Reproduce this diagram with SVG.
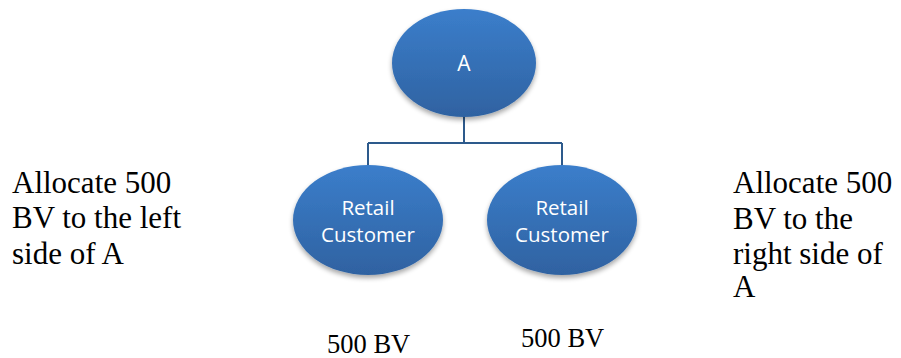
<svg xmlns="http://www.w3.org/2000/svg" width="901" height="358" viewBox="0 0 901 358">
<defs>
<linearGradient id="g" x1="0" y1="0" x2="0" y2="1">
<stop offset="0" stop-color="#3b7ecb"/>
<stop offset="1" stop-color="#2f62a1"/>
</linearGradient>
<filter id="sh" x="-20%" y="-20%" width="140%" height="150%">
<feGaussianBlur in="SourceAlpha" stdDeviation="2.5"/>
<feOffset dx="0" dy="3" result="b"/>
<feComponentTransfer><feFuncA type="linear" slope="0.35"/></feComponentTransfer>
<feMerge><feMergeNode/><feMergeNode in="SourceGraphic"/></feMerge>
</filter>
</defs>
<style>
.node{fill:url(#g);filter:url(#sh)}
.nt{font-family:"Open Sans","Liberation Sans",sans-serif;fill:#fff;text-anchor:middle}
.tt{font-family:"Liberation Serif",serif;fill:#000}
.conn{fill:none;stroke:#2d5a8c;stroke-width:2}
</style>
<g id="connectors">
<path class="conn" d="M464 117V143M368 143H562M368 143V166M562 143V166"/>
</g>
<g id="nodeA">
<ellipse class="node" cx="464" cy="63" rx="72" ry="54"/>
<text class="nt" x="464" y="71" font-size="21">A</text>
</g>
<g id="nodeLeft">
<ellipse class="node" cx="368" cy="220" rx="75" ry="55"/>
<text class="nt" x="368" y="215" font-size="20.5">Retail</text>
<text class="nt" x="368" y="242" font-size="20.5">Customer</text>
</g>
<g id="nodeRight">
<ellipse class="node" cx="562" cy="220" rx="75" ry="55"/>
<text class="nt" x="562" y="215" font-size="20.5">Retail</text>
<text class="nt" x="562" y="242" font-size="20.5">Customer</text>
</g>
<g id="leftNote">
<text class="tt" font-size="31" x="12" y="193">Allocate 500</text>
<text class="tt" font-size="31" x="12" y="228">BV to the left</text>
<text class="tt" font-size="31" x="12" y="264">side of A</text>
</g>
<g id="rightNote">
<text class="tt" font-size="31" x="733" y="193">Allocate 500</text>
<text class="tt" font-size="31" x="733" y="229">BV to the</text>
<text class="tt" font-size="31" x="733" y="264">right side of</text>
<text class="tt" font-size="31" x="733" y="297">A</text>
</g>
<g id="bvLabels">
<text class="tt" font-size="26.5" x="327" y="353">500 BV</text>
<text class="tt" font-size="26.5" x="521" y="347">500 BV</text>
</g>
</svg>
